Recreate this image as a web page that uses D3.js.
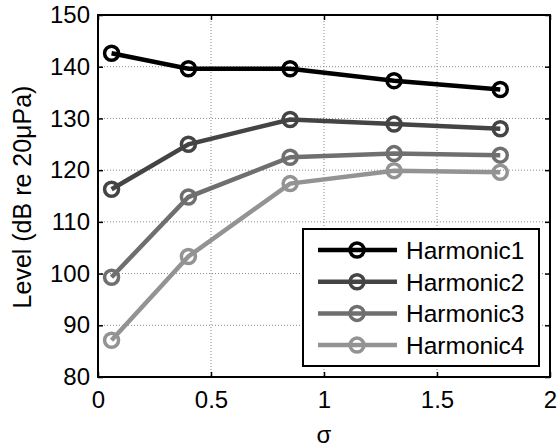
<!DOCTYPE html>
<html>
<head>
<meta charset="utf-8">
<script src="https://cdn.jsdelivr.net/npm/d3@7"></script>
<style>
  body { margin: 0; background: #fff; }
  text { font-family: "Liberation Sans", Arial, sans-serif; }
</style>
</head>
<body>
<div id="chart"></div>
<script>
// data
var sigma = [0.06, 0.4, 0.85, 1.31, 1.78];
var harmonic1 = [142.6, 139.6, 139.6, 137.3, 135.6];
var harmonic2 = [116.3, 125.0, 129.8, 128.9, 128.0];
var harmonic3 = [99.3, 114.8, 122.5, 123.2, 122.9];
var harmonic4 = [87.1, 103.3, 117.4, 119.9, 119.6];
var seriesNames = ["Harmonic1", "Harmonic2", "Harmonic3", "Harmonic4"];
var xTicks = [0, 0.5, 1, 1.5, 2];
var yTicks = [80, 90, 100, 110, 120, 130, 140, 150];

var colors = ["#000000", "#444444", "#6f6f6f", "#939393"];
var allSeries = [harmonic1, harmonic2, harmonic3, harmonic4];

var svgWidth = 560, svgHeight = 448;
var margin = { top: 15, right: 10, bottom: 71, left: 98 };
var width = svgWidth - margin.left - margin.right;
var height = svgHeight - margin.top - margin.bottom;

var svg = d3.select("#chart")
  .append("svg")
  .attr("width", svgWidth)
  .attr("height", svgHeight);

var chartGroup = svg.append("g")
  .attr("transform", `translate(${margin.left}, ${margin.top})`);

var xScale = d3.scaleLinear().domain([0, 2]).range([0, width]);
var yScale = d3.scaleLinear().domain([80, 150]).range([height, 0]);

// dotted grid
chartGroup.append("g")
  .selectAll("line")
  .data(xTicks.slice(1, -1))
  .enter()
  .append("line")
  .attr("x1", d => xScale(d)).attr("x2", d => xScale(d))
  .attr("y1", 0).attr("y2", height)
  .attr("stroke", "#888")
  .attr("stroke-width", 1)
  .attr("stroke-dasharray", "1,2");

chartGroup.append("g")
  .selectAll("line")
  .data(yTicks.slice(1, -1))
  .enter()
  .append("line")
  .attr("x1", 0).attr("x2", width)
  .attr("y1", d => yScale(d)).attr("y2", d => yScale(d))
  .attr("stroke", "#888")
  .attr("stroke-width", 1)
  .attr("stroke-dasharray", "1,2");

// axes, ticks pointing inward
function styleAxis(g) {
  g.select(".domain").remove();
  g.selectAll("line").attr("stroke", "#000").attr("stroke-width", 1.5);
  g.selectAll("text")
    .attr("font-size", "24px")
    .attr("fill", "#000")
    .attr("font-family", "'Liberation Sans', Arial, sans-serif");
}

var bottomAxis = d3.axisBottom(xScale).tickValues(xTicks).tickSize(-5).tickPadding(14)
  .tickFormat(d3.format("~g"));
chartGroup.append("g")
  .attr("transform", `translate(0, ${height})`)
  .call(bottomAxis)
  .call(styleAxis);

var topAxis = d3.axisTop(xScale).tickValues(xTicks).tickSize(-5).tickFormat("");
chartGroup.append("g").call(topAxis).call(styleAxis);

var leftAxis = d3.axisLeft(yScale).tickValues(yTicks).tickSize(-5).tickPadding(8);
chartGroup.append("g")
  .call(leftAxis)
  .call(styleAxis);

var rightAxis = d3.axisRight(yScale).tickValues(yTicks).tickSize(-5).tickFormat("");
chartGroup.append("g")
  .attr("transform", `translate(${width}, 0)`)
  .call(rightAxis)
  .call(styleAxis);

// box
chartGroup.append("rect")
  .attr("x", 0).attr("y", 0)
  .attr("width", width).attr("height", height)
  .attr("fill", "none")
  .attr("stroke", "#000")
  .attr("stroke-width", 2);

// lines and markers
var line = d3.line()
  .x((d, i) => xScale(sigma[i]))
  .y(d => yScale(d));

allSeries.forEach(function(values, k) {
  chartGroup.append("path")
    .datum(values)
    .attr("d", line)
    .attr("fill", "none")
    .attr("stroke", colors[k])
    .attr("stroke-width", 4.5);

  chartGroup.append("g")
    .selectAll("circle")
    .data(values)
    .enter()
    .append("circle")
    .attr("cx", (d, i) => xScale(sigma[i]))
    .attr("cy", d => yScale(d))
    .attr("r", 7)
    .attr("fill", "none")
    .attr("stroke", colors[k])
    .attr("stroke-width", 3.5);
});

// legend
var legend = svg.append("g").attr("transform", "translate(303, 229)");
legend.append("rect")
  .attr("width", 236).attr("height", 137)
  .attr("fill", "#fff")
  .attr("stroke", "#000")
  .attr("stroke-width", 2);

seriesNames.forEach(function(name, k) {
  var yy = 21 + k * 31.7;
  legend.append("line")
    .attr("x1", 15).attr("x2", 94)
    .attr("y1", yy).attr("y2", yy)
    .attr("stroke", colors[k])
    .attr("stroke-width", 4.5);
  legend.append("circle")
    .attr("cx", 54).attr("cy", yy).attr("r", 7)
    .attr("fill", "none")
    .attr("stroke", colors[k])
    .attr("stroke-width", 3.5);
  legend.append("text")
    .attr("x", 103).attr("y", yy)
    .attr("dy", "0.36em")
    .attr("font-size", "24.5px")
    .text(name);
});

// axis labels
svg.append("text")
  .attr("transform", "rotate(-90)")
  .attr("x", -197)
  .attr("y", 31)
  .attr("text-anchor", "middle")
  .attr("font-size", "25px")
  .text("Level (dB re 20μPa)");

svg.append("text")
  .attr("x", margin.left + width / 2)
  .attr("y", 443)
  .attr("text-anchor", "middle")
  .attr("font-size", "24px")
  .text("σ");
</script>
</body>
</html>
